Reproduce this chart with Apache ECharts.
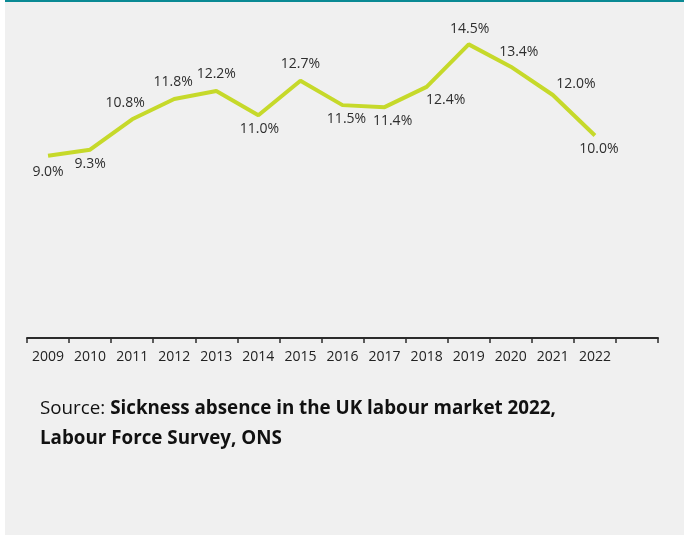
<!DOCTYPE html>
<html>
<head>
<meta charset="utf-8">
<script src="https://cdn.jsdelivr.net/npm/echarts@6/dist/echarts.min.js"></script>
<style>
  html, body { margin: 0; padding: 0; background: #ffffff; }
  #chart { width: 684px; height: 535px; }
</style>
</head>
<body>
<div id="chart"></div>
<script>
// Sickness absence rate by year (%), with one trailing empty slot on the axis
const years = ['2009', '2010', '2011', '2012', '2013', '2014', '2015', '2016', '2017', '2018', '2019', '2020', '2021', '2022', ''];
const absenceRate = [9.0, 9.3, 10.8, 11.8, 12.2, 11.0, 12.7, 11.5, 11.4, 12.4, 14.5, 13.4, 12.0, 10.0, null];

// Where each value label sits relative to its point (dx, dy in px)
const labelOffsets = [
  [0, 16], [0, 14], [-7, -16], [-1, -17], [0, -17], [1, 14], [0, -17],
  [4, 14], [8, 14], [19, 13], [1, -15], [8, -15], [23, -11], [4, 14], [0, 0]
];

const seriesData = absenceRate.map((v, i) => ({
  value: v === null ? '-' : v,
  label: { offset: labelOffsets[i] }
}));

const chart = echarts.init(document.getElementById('chart'), null, { renderer: 'canvas' });

chart.setOption({
  animation: false,
  backgroundColor: 'transparent',
  textStyle: { fontFamily: 'Open Sans' },
  graphic: [
    { type: 'rect', z: -10, shape: { x: 5, y: 0, width: 679, height: 535 }, style: { fill: '#f0f0f0' } },
    { type: 'rect', z: -9, shape: { x: 5, y: 0, width: 679, height: 2 }, style: { fill: '#0a8a94' } },
    {
      type: 'text',
      left: 40,
      top: 399,
      style: {
        text: '{r|Source: }{b|Sickness absence in the UK labour market 2022,}\n{b|Labour Force Survey, ONS}',
        rich: {
          r: { fontFamily: 'Open Sans', fontSize: 18.8, fontWeight: 'normal', fill: '#111', lineHeight: 30 },
          b: { fontFamily: 'Open Sans', fontSize: 18.8, fontWeight: 'bold', fill: '#111', lineHeight: 30 }
        }
      }
    }
  ],
  grid: { left: 27, right: 26, top: 14, bottom: 197, containLabel: false },
  xAxis: {
    type: 'category',
    data: years,
    boundaryGap: true,
    axisLine: { show: true, lineStyle: { color: '#2b2b2b', width: 2 } },
    axisTick: { show: true, length: 5, alignWithLabel: false, lineStyle: { color: '#2b2b2b', width: 1.5 } },
    axisLabel: { color: '#222', fontSize: 14, fontFamily: 'Open Sans', margin: 12, interval: 0 },
    splitLine: { show: false }
  },
  yAxis: {
    type: 'value',
    min: 0,
    max: 16,
    show: false,
    splitLine: { show: false }
  },
  series: [{
    type: 'line',
    data: seriesData,
    symbol: 'circle',
    symbolSize: 1,
    showSymbol: true,
    itemStyle: { color: 'rgba(0,0,0,0)' },
    lineStyle: { color: '#c6d92a', width: 4 },
    connectNulls: false,
    label: {
      show: true,
      position: 'inside',
      align: 'center',
      verticalAlign: 'middle',
      color: '#2e2e2e',
      fontSize: 14,
      fontFamily: 'Open Sans',
      formatter: p => p.value.toFixed(1) + '%'
    },
    emphasis: { disabled: true }
  }]
});
</script>
</body>
</html>
